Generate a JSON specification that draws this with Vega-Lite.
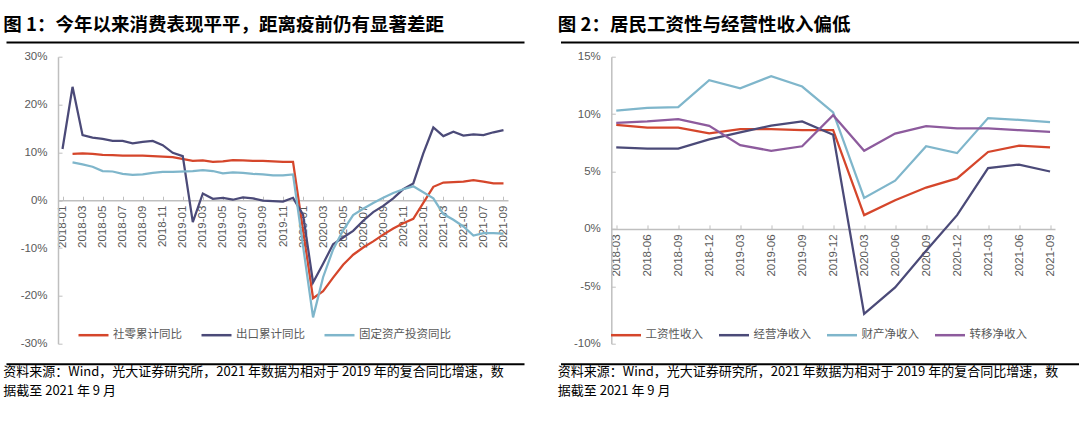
{
  "$schema": "https://vega.github.io/schema/vega-lite/v6.json",
  "padding": {"left": 3, "top": 16, "right": 0, "bottom": 0},
  "autosize": {"type": "pad"},
  "config": {
    "view": {"stroke": null},
    "font": "Noto Sans CJK SC",
    "axis": {"grid": false, "domainColor": "#BFBFBF", "tickColor": "#BFBFBF", "labelColor": "#595959", "labelFont": "Liberation Sans", "labelFontSize": 11.5, "title": null},
    "legend": {"labelFont": "Noto Sans CJK SC", "labelFontSize": 11.5, "labelColor": "#595959", "symbolType": "stroke", "symbolSize": 900, "symbolStrokeWidth": 2.5, "labelOffset": 3, "padding": 0, "title": null},
    "title": {"anchor": "start", "font": "Noto Sans CJK SC", "fontSize": 18.5, "fontWeight": "bold", "color": "#000000", "offset": 4}
  },
  "resolve": {"scale": {"color": "independent"}, "legend": {"color": "independent"}},
  "datasets": {
    "one": [{"k": 0}],
    "left": [
      {"m": "2018-02", "s": "社零累计同比", "v": 9.7}, {"m": "2018-03", "s": "社零累计同比", "v": 9.8}, {"m": "2018-04", "s": "社零累计同比", "v": 9.7}, {"m": "2018-05", "s": "社零累计同比", "v": 9.5}, {"m": "2018-06", "s": "社零累计同比", "v": 9.4}, {"m": "2018-07", "s": "社零累计同比", "v": 9.3}, {"m": "2018-08", "s": "社零累计同比", "v": 9.3}, {"m": "2018-09", "s": "社零累计同比", "v": 9.3}, {"m": "2018-10", "s": "社零累计同比", "v": 9.2}, {"m": "2018-11", "s": "社零累计同比", "v": 9.1}, {"m": "2018-12", "s": "社零累计同比", "v": 9.0},
      {"m": "2019-02", "s": "社零累计同比", "v": 8.2}, {"m": "2019-03", "s": "社零累计同比", "v": 8.3}, {"m": "2019-04", "s": "社零累计同比", "v": 8.0}, {"m": "2019-05", "s": "社零累计同比", "v": 8.1}, {"m": "2019-06", "s": "社零累计同比", "v": 8.4}, {"m": "2019-07", "s": "社零累计同比", "v": 8.3}, {"m": "2019-08", "s": "社零累计同比", "v": 8.2}, {"m": "2019-09", "s": "社零累计同比", "v": 8.2}, {"m": "2019-10", "s": "社零累计同比", "v": 8.1}, {"m": "2019-11", "s": "社零累计同比", "v": 8.0}, {"m": "2019-12", "s": "社零累计同比", "v": 8.0},
      {"m": "2020-02", "s": "社零累计同比", "v": -20.5}, {"m": "2020-03", "s": "社零累计同比", "v": -19.0}, {"m": "2020-04", "s": "社零累计同比", "v": -16.2}, {"m": "2020-05", "s": "社零累计同比", "v": -13.5}, {"m": "2020-06", "s": "社零累计同比", "v": -11.4}, {"m": "2020-07", "s": "社零累计同比", "v": -9.9}, {"m": "2020-08", "s": "社零累计同比", "v": -8.6}, {"m": "2020-09", "s": "社零累计同比", "v": -7.2}, {"m": "2020-10", "s": "社零累计同比", "v": -5.9}, {"m": "2020-11", "s": "社零累计同比", "v": -4.8}, {"m": "2020-12", "s": "社零累计同比", "v": -3.9},
      {"m": "2021-02", "s": "社零累计同比", "v": 2.8}, {"m": "2021-03", "s": "社零累计同比", "v": 3.7}, {"m": "2021-04", "s": "社零累计同比", "v": 3.8}, {"m": "2021-05", "s": "社零累计同比", "v": 3.9}, {"m": "2021-06", "s": "社零累计同比", "v": 4.2}, {"m": "2021-07", "s": "社零累计同比", "v": 3.9}, {"m": "2021-08", "s": "社零累计同比", "v": 3.5}, {"m": "2021-09", "s": "社零累计同比", "v": 3.5},
      {"m": "2018-01", "s": "出口累计同比", "v": 10.7}, {"m": "2018-02", "s": "出口累计同比", "v": 23.7}, {"m": "2018-03", "s": "出口累计同比", "v": 13.6}, {"m": "2018-04", "s": "出口累计同比", "v": 13.1}, {"m": "2018-05", "s": "出口累计同比", "v": 12.8}, {"m": "2018-06", "s": "出口累计同比", "v": 12.4}, {"m": "2018-07", "s": "出口累计同比", "v": 12.4}, {"m": "2018-08", "s": "出口累计同比", "v": 11.9}, {"m": "2018-09", "s": "出口累计同比", "v": 12.2}, {"m": "2018-10", "s": "出口累计同比", "v": 12.4}, {"m": "2018-11", "s": "出口累计同比", "v": 11.5}, {"m": "2018-12", "s": "出口累计同比", "v": 9.9},
      {"m": "2019-01", "s": "出口累计同比", "v": 9.2}, {"m": "2019-02", "s": "出口累计同比", "v": -4.6}, {"m": "2019-03", "s": "出口累计同比", "v": 1.4}, {"m": "2019-04", "s": "出口累计同比", "v": 0.3}, {"m": "2019-05", "s": "出口累计同比", "v": 0.5}, {"m": "2019-06", "s": "出口累计同比", "v": 0.1}, {"m": "2019-07", "s": "出口累计同比", "v": 0.6}, {"m": "2019-08", "s": "出口累计同比", "v": 0.4}, {"m": "2019-09", "s": "出口累计同比", "v": -0.1}, {"m": "2019-10", "s": "出口累计同比", "v": -0.2}, {"m": "2019-11", "s": "出口累计同比", "v": -0.3}, {"m": "2019-12", "s": "出口累计同比", "v": 0.5},
      {"m": "2020-01", "s": "出口累计同比", "v": -3.0}, {"m": "2020-02", "s": "出口累计同比", "v": -17.2}, {"m": "2020-03", "s": "出口累计同比", "v": -13.3}, {"m": "2020-04", "s": "出口累计同比", "v": -9.2}, {"m": "2020-05", "s": "出口累计同比", "v": -7.8}, {"m": "2020-06", "s": "出口累计同比", "v": -6.4}, {"m": "2020-07", "s": "出口累计同比", "v": -4.3}, {"m": "2020-08", "s": "出口累计同比", "v": -2.5}, {"m": "2020-09", "s": "出口累计同比", "v": -1.2}, {"m": "2020-10", "s": "出口累计同比", "v": 0.4}, {"m": "2020-11", "s": "出口累计同比", "v": 2.3}, {"m": "2020-12", "s": "出口累计同比", "v": 3.5},
      {"m": "2021-01", "s": "出口累计同比", "v": 9.8}, {"m": "2021-02", "s": "出口累计同比", "v": 15.2}, {"m": "2021-03", "s": "出口累计同比", "v": 13.4}, {"m": "2021-04", "s": "出口累计同比", "v": 14.3}, {"m": "2021-05", "s": "出口累计同比", "v": 13.5}, {"m": "2021-06", "s": "出口累计同比", "v": 13.75}, {"m": "2021-07", "s": "出口累计同比", "v": 13.6}, {"m": "2021-08", "s": "出口累计同比", "v": 14.2}, {"m": "2021-09", "s": "出口累计同比", "v": 14.65},
      {"m": "2018-02", "s": "固定资产投资同比", "v": 7.9}, {"m": "2018-03", "s": "固定资产投资同比", "v": 7.5}, {"m": "2018-04", "s": "固定资产投资同比", "v": 7.0}, {"m": "2018-05", "s": "固定资产投资同比", "v": 6.1}, {"m": "2018-06", "s": "固定资产投资同比", "v": 6.0}, {"m": "2018-07", "s": "固定资产投资同比", "v": 5.5}, {"m": "2018-08", "s": "固定资产投资同比", "v": 5.3}, {"m": "2018-09", "s": "固定资产投资同比", "v": 5.4}, {"m": "2018-10", "s": "固定资产投资同比", "v": 5.7}, {"m": "2018-11", "s": "固定资产投资同比", "v": 5.9}, {"m": "2018-12", "s": "固定资产投资同比", "v": 5.9},
      {"m": "2019-02", "s": "固定资产投资同比", "v": 6.1}, {"m": "2019-03", "s": "固定资产投资同比", "v": 6.3}, {"m": "2019-04", "s": "固定资产投资同比", "v": 6.1}, {"m": "2019-05", "s": "固定资产投资同比", "v": 5.6}, {"m": "2019-06", "s": "固定资产投资同比", "v": 5.8}, {"m": "2019-07", "s": "固定资产投资同比", "v": 5.7}, {"m": "2019-08", "s": "固定资产投资同比", "v": 5.5}, {"m": "2019-09", "s": "固定资产投资同比", "v": 5.4}, {"m": "2019-10", "s": "固定资产投资同比", "v": 5.2}, {"m": "2019-11", "s": "固定资产投资同比", "v": 5.2}, {"m": "2019-12", "s": "固定资产投资同比", "v": 5.4},
      {"m": "2020-02", "s": "固定资产投资同比", "v": -24.5}, {"m": "2020-03", "s": "固定资产投资同比", "v": -16.1}, {"m": "2020-04", "s": "固定资产投资同比", "v": -10.3}, {"m": "2020-05", "s": "固定资产投资同比", "v": -6.3}, {"m": "2020-06", "s": "固定资产投资同比", "v": -3.1}, {"m": "2020-07", "s": "固定资产投资同比", "v": -1.8}, {"m": "2020-08", "s": "固定资产投资同比", "v": -0.6}, {"m": "2020-09", "s": "固定资产投资同比", "v": 0.5}, {"m": "2020-10", "s": "固定资产投资同比", "v": 1.5}, {"m": "2020-11", "s": "固定资产投资同比", "v": 2.3}, {"m": "2020-12", "s": "固定资产投资同比", "v": 2.9},
      {"m": "2021-02", "s": "固定资产投资同比", "v": 0.4}, {"m": "2021-03", "s": "固定资产投资同比", "v": -2.9}, {"m": "2021-04", "s": "固定资产投资同比", "v": -4.1}, {"m": "2021-05", "s": "固定资产投资同比", "v": -5.5}, {"m": "2021-06", "s": "固定资产投资同比", "v": -7.4}, {"m": "2021-07", "s": "固定资产投资同比", "v": -6.9}, {"m": "2021-08", "s": "固定资产投资同比", "v": -6.9}, {"m": "2021-09", "s": "固定资产投资同比", "v": -7.0}
    ],
    "right": [
      {"q": "2018-03", "s": "工资性收入", "v": 9.06}, {"q": "2018-06", "s": "工资性收入", "v": 8.83}, {"q": "2018-09", "s": "工资性收入", "v": 8.83}, {"q": "2018-12", "s": "工资性收入", "v": 8.33}, {"q": "2019-03", "s": "工资性收入", "v": 8.7}, {"q": "2019-06", "s": "工资性收入", "v": 8.7}, {"q": "2019-09", "s": "工资性收入", "v": 8.6}, {"q": "2019-12", "s": "工资性收入", "v": 8.6}, {"q": "2020-03", "s": "工资性收入", "v": 1.2}, {"q": "2020-06", "s": "工资性收入", "v": 2.5}, {"q": "2020-09", "s": "工资性收入", "v": 3.6}, {"q": "2020-12", "s": "工资性收入", "v": 4.4}, {"q": "2021-03", "s": "工资性收入", "v": 6.7}, {"q": "2021-06", "s": "工资性收入", "v": 7.25}, {"q": "2021-09", "s": "工资性收入", "v": 7.1},
      {"q": "2018-03", "s": "经营净收入", "v": 7.1}, {"q": "2018-06", "s": "经营净收入", "v": 7.0}, {"q": "2018-09", "s": "经营净收入", "v": 7.0}, {"q": "2018-12", "s": "经营净收入", "v": 7.8}, {"q": "2019-03", "s": "经营净收入", "v": 8.4}, {"q": "2019-06", "s": "经营净收入", "v": 9.0}, {"q": "2019-09", "s": "经营净收入", "v": 9.36}, {"q": "2019-12", "s": "经营净收入", "v": 8.2}, {"q": "2020-03", "s": "经营净收入", "v": -7.4}, {"q": "2020-06", "s": "经营净收入", "v": -5.1}, {"q": "2020-09", "s": "经营净收入", "v": -1.9}, {"q": "2020-12", "s": "经营净收入", "v": 1.2}, {"q": "2021-03", "s": "经营净收入", "v": 5.3}, {"q": "2021-06", "s": "经营净收入", "v": 5.6}, {"q": "2021-09", "s": "经营净收入", "v": 5.0},
      {"q": "2018-03", "s": "财产净收入", "v": 10.3}, {"q": "2018-06", "s": "财产净收入", "v": 10.55}, {"q": "2018-09", "s": "财产净收入", "v": 10.6}, {"q": "2018-12", "s": "财产净收入", "v": 12.95}, {"q": "2019-03", "s": "财产净收入", "v": 12.25}, {"q": "2019-06", "s": "财产净收入", "v": 13.3}, {"q": "2019-09", "s": "财产净收入", "v": 12.4}, {"q": "2019-12", "s": "财产净收入", "v": 10.15}, {"q": "2020-03", "s": "财产净收入", "v": 2.7}, {"q": "2020-06", "s": "财产净收入", "v": 4.2}, {"q": "2020-09", "s": "财产净收入", "v": 7.2}, {"q": "2020-12", "s": "财产净收入", "v": 6.6}, {"q": "2021-03", "s": "财产净收入", "v": 9.65}, {"q": "2021-06", "s": "财产净收入", "v": 9.5}, {"q": "2021-09", "s": "财产净收入", "v": 9.3},
      {"q": "2018-03", "s": "转移净收入", "v": 9.24}, {"q": "2018-06", "s": "转移净收入", "v": 9.36}, {"q": "2018-09", "s": "转移净收入", "v": 9.56}, {"q": "2018-12", "s": "转移净收入", "v": 8.98}, {"q": "2019-03", "s": "转移净收入", "v": 7.3}, {"q": "2019-06", "s": "转移净收入", "v": 6.8}, {"q": "2019-09", "s": "转移净收入", "v": 7.2}, {"q": "2019-12", "s": "转移净收入", "v": 9.9}, {"q": "2020-03", "s": "转移净收入", "v": 6.8}, {"q": "2020-06", "s": "转移净收入", "v": 8.3}, {"q": "2020-09", "s": "转移净收入", "v": 8.95}, {"q": "2020-12", "s": "转移净收入", "v": 8.75}, {"q": "2021-03", "s": "转移净收入", "v": 8.75}, {"q": "2021-06", "s": "转移净收入", "v": 8.6}, {"q": "2021-09", "s": "转移净收入", "v": 8.45}
    ]
  },
  "columns": 2,
  "spacing": {"row": 14.7, "column": 36.5},
  "bounds": "flush",
  "concat": [
    {
      "width": 518, "height": 1,
      "data": {"name": "one"},
      "mark": {"type": "point", "opacity": 0},
      "encoding": {"x": {"field": "k", "type": "quantitative", "scale": {"domain": [0, 1]}, "axis": {"domainColor": "#000000", "domainWidth": 2, "ticks": false, "labels": false}}},
      "title": {"text": "图 1：今年以来消费表现平平，距离疫前仍有显著差距"}
    },
    {
      "width": 518, "height": 1,
      "data": {"name": "one"},
      "mark": {"type": "point", "opacity": 0},
      "encoding": {"x": {"field": "k", "type": "quantitative", "scale": {"domain": [0, 1]}, "axis": {"domainColor": "#000000", "domainWidth": 2, "ticks": false, "labels": false}}},
      "title": {"text": "图 2：居民工资性与经营性收入偏低"}
    },
    {
      "width": 518, "height": 287,
      "data": {"name": "left"},
      "mark": {"type": "line", "strokeWidth": 2.25},
      "encoding": {
        "x": {"field": "m", "type": "ordinal", "scale": {"type": "point", "range": [52, 502], "padding": 0.45},
          "axis": {"values": ["2018-01", "2018-03", "2018-05", "2018-07", "2018-09", "2018-11", "2019-01", "2019-03", "2019-05", "2019-07", "2019-09", "2019-11", "2020-01", "2020-03", "2020-05", "2020-07", "2020-09", "2020-11", "2021-01", "2021-03", "2021-05", "2021-07", "2021-09"], "labelAngle": -90, "offset": -143.5, "tickSize": -4, "labelPadding": 9, "domainWidth": 1.5}},
        "y": {"field": "v", "type": "quantitative", "scale": {"domain": [-30, 30], "nice": false, "zero": false},
          "axis": {"values": [-30, -20, -10, 0, 10, 20, 30], "labelExpr": "datum.value + '%'", "offset": -52, "tickSize": -4, "labelPadding": 15, "domainWidth": 1.5}},
        "color": {"field": "s", "type": "nominal", "scale": {"domain": ["社零累计同比", "出口累计同比", "固定资产投资同比"], "range": ["#D5462B", "#4B4A78", "#7FB6CB"]},
          "legend": {"orient": "none", "legendX": 71, "legendY": 262, "direction": "horizontal", "columnPadding": 14}}
      }
    },
    {
      "width": 518, "height": 287,
      "data": {"name": "right"},
      "mark": {"type": "line", "strokeWidth": 2.25},
      "encoding": {
        "x": {"field": "q", "type": "ordinal", "scale": {"type": "point", "range": [50.8, 494.5], "padding": 0.16},
          "axis": {"labelAngle": -90, "offset": -114.8, "tickSize": -4, "labelPadding": 9, "domainWidth": 1.5}},
        "y": {"field": "v", "type": "quantitative", "scale": {"domain": [-10, 15], "nice": false, "zero": false},
          "axis": {"values": [-10, -5, 0, 5, 10, 15], "labelExpr": "datum.value + '%'", "offset": -50.8, "tickSize": -4, "labelPadding": 15, "domainWidth": 1.5}},
        "color": {"field": "s", "type": "nominal", "scale": {"domain": ["工资性收入", "经营净收入", "财产净收入", "转移净收入"], "range": ["#D5462B", "#4B4A78", "#7FB6CB", "#8D5B9D"]},
          "legend": {"orient": "none", "legendX": 49, "legendY": 262, "direction": "horizontal", "columnPadding": 10}}
      }
    },
    {
      "width": 518, "height": 5.3,
      "data": {"name": "one"},
      "mark": {"type": "point", "opacity": 0},
      "encoding": {"x": {"field": "k", "type": "quantitative", "scale": {"domain": [0, 1]}, "axis": {"domainColor": "#000000", "domainWidth": 2, "ticks": false, "labels": false}}},
      "title": {"text": ["资料来源：Wind，光大证券研究所，2021 年数据为相对于 2019 年的复合同比增速，数", "据截至 2021 年 9 月"], "orient": "bottom", "anchor": "start", "fontSize": 13, "fontWeight": "normal", "lineHeight": 19, "offset": 2.5}
    },
    {
      "width": 518, "height": 5.3,
      "data": {"name": "one"},
      "mark": {"type": "point", "opacity": 0},
      "encoding": {"x": {"field": "k", "type": "quantitative", "scale": {"domain": [0, 1]}, "axis": {"domainColor": "#000000", "domainWidth": 2, "ticks": false, "labels": false}}},
      "title": {"text": ["资料来源：Wind，光大证券研究所，2021 年数据为相对于 2019 年的复合同比增速，数", "据截至 2021 年 9 月"], "orient": "bottom", "anchor": "start", "fontSize": 13, "fontWeight": "normal", "lineHeight": 19, "offset": 2.5}
    }
  ]
}
